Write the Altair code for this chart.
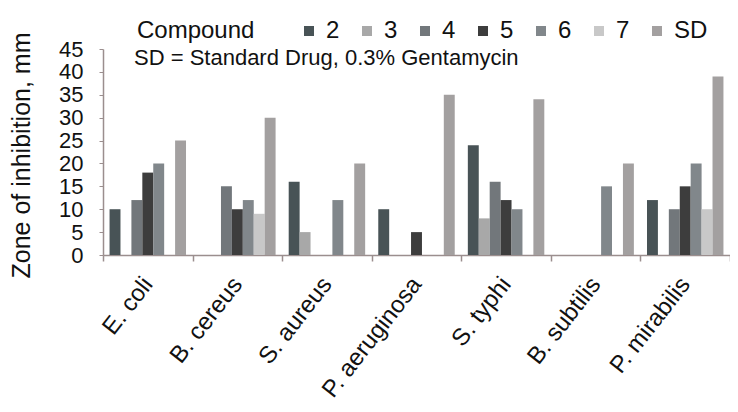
import altair as alt
import pandas as pd

# ---- data ----
organisms = ["E. coli", "B. cereus", "S. aureus", "P. aeruginosa", "S. typhi", "B. subtilis", "P. mirabilis"]
compounds = ["2", "3", "4", "5", "6", "7", "SD"]
values = {
    "2":  [10, 0, 16, 10, 24, 0, 12],
    "3":  [0, 0, 5, 0, 8, 0, 0],
    "4":  [12, 15, 0, 0, 16, 0, 10],
    "5":  [18, 10, 0, 5, 12, 0, 15],
    "6":  [20, 12, 12, 0, 10, 15, 20],
    "7":  [0, 9, 0, 0, 0, 0, 10],
    "SD": [25, 30, 20, 35, 34, 20, 39],
}
colors = ["#485356", "#a8a8a8", "#72777b", "#3d3d3d", "#81878b", "#c8c8c8", "#a3a0a0"]
y_ticks = [0, 5, 10, 15, 20, 25, 30, 35, 40, 45]
note = "SD = Standard Drug, 0.3% Gentamycin"
y_title = "Zone of inhibition,   mm"

rows = []
for c in compounds:
    for org, v in zip(organisms, values[c]):
        rows.append({"organism": org, "compound": c, "value": v})
df = pd.DataFrame(rows)

FONT = "Liberation Sans"
AXIS_COLOR = "#9b8e8e"

bars = alt.Chart(df).mark_bar().encode(
    x=alt.X(
        "organism:N",
        sort=organisms,
        scale=alt.Scale(paddingInner=0, paddingOuter=0),
        axis=alt.Axis(
            title=None,
            labelAngle=308,
            labelAlign="right",
            labelBaseline="middle",
            labelFontSize=24,
            labelPadding=19,
            labelOverlap=False,
            labelColor="#111111",
            tickBand="extent",
            tickSize=6,
            tickColor=AXIS_COLOR,
            domainColor=AXIS_COLOR,
            domainWidth=1.5,
            tickWidth=1.5,
        ),
    ),
    xOffset=alt.XOffset(
        "compound:N",
        sort=compounds,
        scale=alt.Scale(paddingInner=0, paddingOuter=0.6),
    ),
    y=alt.Y(
        "value:Q",
        scale=alt.Scale(domain=[0, 45], nice=False),
        axis=alt.Axis(
            title=y_title,
            values=y_ticks,
            grid=False,
            labelFontSize=22,
            labelPadding=16,
            labelOverlap=False,
            labelFlush=False,
            labelColor="#111111",
            tickSize=4,
            tickColor=AXIS_COLOR,
            domainColor=AXIS_COLOR,
            domainWidth=1.5,
            titleFontSize=25,
            titleFontWeight="normal",
            titleColor="#111111",
            titleAngle=270,
            titleAlign="center",
            titleBaseline="middle",
            titleX=-82,
            titleY=106,
        ),
    ),
    color=alt.Color(
        "compound:N",
        sort=compounds,
        scale=alt.Scale(domain=compounds, range=colors),
        legend=alt.Legend(
            title="Compound",
            orient="none",
            direction="horizontal",
            legendX=34,
            legendY=-30,
            titleOrient="left",
            titleFontSize=24,
            titleFontWeight="normal",
            titleColor="#111111",
            titlePadding=42,
            labelFontSize=24,
            labelColor="#111111",
            labelOffset=5,
            columnPadding=15,
            symbolType="square",
            symbolSize=100,
            symbolStrokeWidth=0,
        ),
    ),
)

text = alt.Chart(pd.DataFrame({"note": [note]})).mark_text(
    align="left", baseline="alphabetic", fontSize=22, font=FONT, color="#111111"
).encode(
    x=alt.value(31),
    y=alt.value(16),
    text="note:N",
)

chart = alt.layer(bars, text).properties(
    width=627,
    height=206,
    autosize=alt.AutoSizeParams(type="none"),
    padding={"left": 95, "top": 41, "right": 0, "bottom": 154},
    background="white",
).configure(font=FONT).configure_view(stroke=None)

chart.save("out.html", embed_options={"renderer": "svg", "actions": False})
